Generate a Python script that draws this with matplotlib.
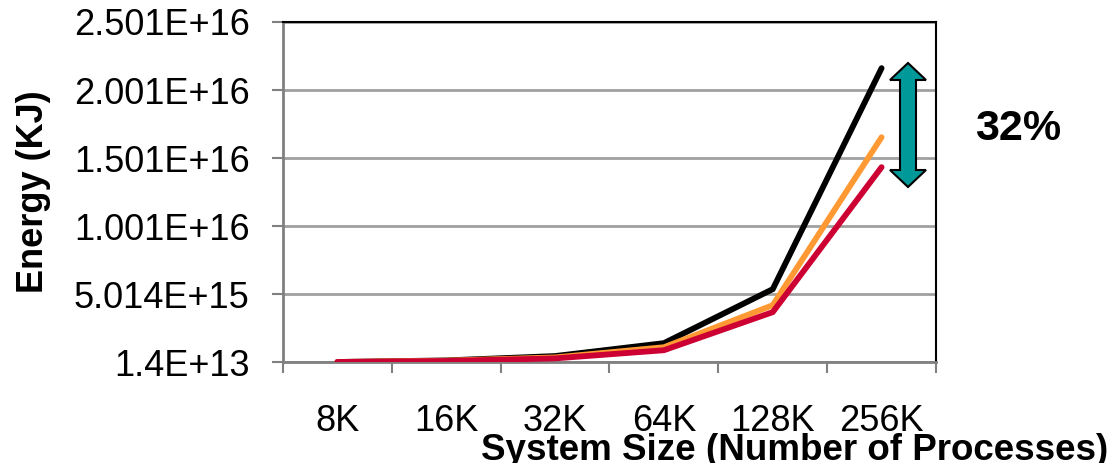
import matplotlib
matplotlib.use("Agg")
import matplotlib.pyplot as plt
from matplotlib.patches import Polygon

plt.rcParams['font.family'] = ['Liberation Sans', 'DejaVu Sans']

# System sizes (number of processes)
categories = ["8K", "16K", "32K", "64K", "128K", "256K"]

# Energy consumption in KJ for three configurations
energy_black = [1.4e13, 1.3e14, 4.5e14, 1.40e15, 5.37e15, 2.162e16]
energy_orange = [1.4e13, 1.1e14, 3.5e14, 1.10e15, 4.19e15, 1.654e16]
energy_red = [1.4e13, 9.0e13, 2.8e14, 0.88e15, 3.68e15, 1.434e16]

y_ticks = [1.4e13, 5.014e15, 1.0014e16, 1.5014e16, 2.0014e16, 2.5014e16]
y_tick_labels = ["1.4E+13", "5.014E+15", "1.001E+16", "1.501E+16", "2.001E+16", "2.501E+16"]

W, H = 1118, 463
fig = plt.figure(figsize=(W / 100, H / 100), dpi=100)
ax = fig.add_axes([283 / W, 1 - 362 / H, (936 - 283) / W, (362 - 22) / H])

x = list(range(len(categories)))
for vals, col in [(energy_black, "#000000"), (energy_orange, "#FF9933"), (energy_red, "#CC0033")]:
    ax.plot(x, vals, color=col, lw=4.2, solid_capstyle="round", solid_joinstyle="miter", zorder=3)

ax.set_xlim(-0.5, len(categories) - 0.5)
ax.set_ylim(y_ticks[0], y_ticks[-1])

# y axis
ax.set_yticks(y_ticks)
ax.set_yticklabels(y_tick_labels, fontsize=26)
ax.yaxis.grid(True, color="#a0a0a0", lw=2)
ax.tick_params(axis="y", direction="out", length=8, width=1.5, color="#808080", pad=16)

# x axis: labels at category centres, tick marks at category boundaries
ax.set_xticks(x)
ax.set_xticklabels(categories, fontsize=26)
ax.set_xticks([i - 0.5 for i in range(len(categories) + 1)], minor=True)
ax.tick_params(axis="x", which="major", length=0, pad=30)
ax.tick_params(axis="x", which="minor", direction="out", length=8, width=1.5, color="#808080")

for side in ("left", "bottom"):
    ax.spines[side].set_color("#808080")
    ax.spines[side].set_linewidth(2)
for side in ("top", "right"):
    ax.spines[side].set_color("#000000")
    ax.spines[side].set_linewidth(1.5)

ax.set_ylabel("Energy (KJ)", fontsize=26, fontweight="bold")
ax.yaxis.set_label_coords(-(283 - 51) / (936 - 283), 0.5)

fig.text(795 / W, 3 / H, "System Size (Number of Processes)", fontsize=26.5,
         fontweight="bold", ha="center", va="baseline")

# double-headed teal arrow marking the gap between configurations
def px(xp, yp):
    return (xp / W, 1 - yp / H)

cx, top, bot = 908, 63, 187
head, hw, sw = 17, 18, 8
pts = [px(cx, top), px(cx + hw, top + head), px(cx + sw, top + head),
       px(cx + sw, bot - head), px(cx + hw, bot - head), px(cx, bot),
       px(cx - hw, bot - head), px(cx - sw, bot - head), px(cx - sw, top + head),
       px(cx - hw, top + head)]
fig.patches.append(Polygon(pts, closed=True, transform=fig.transFigure,
                           facecolor="#009999", edgecolor="#000000", lw=1.5, zorder=5))

fig.text(1018 / W, 1 - 129 / H, "32%", fontsize=31, fontweight="bold",
         ha="center", va="center")

fig.savefig("out.png", dpi=100)
